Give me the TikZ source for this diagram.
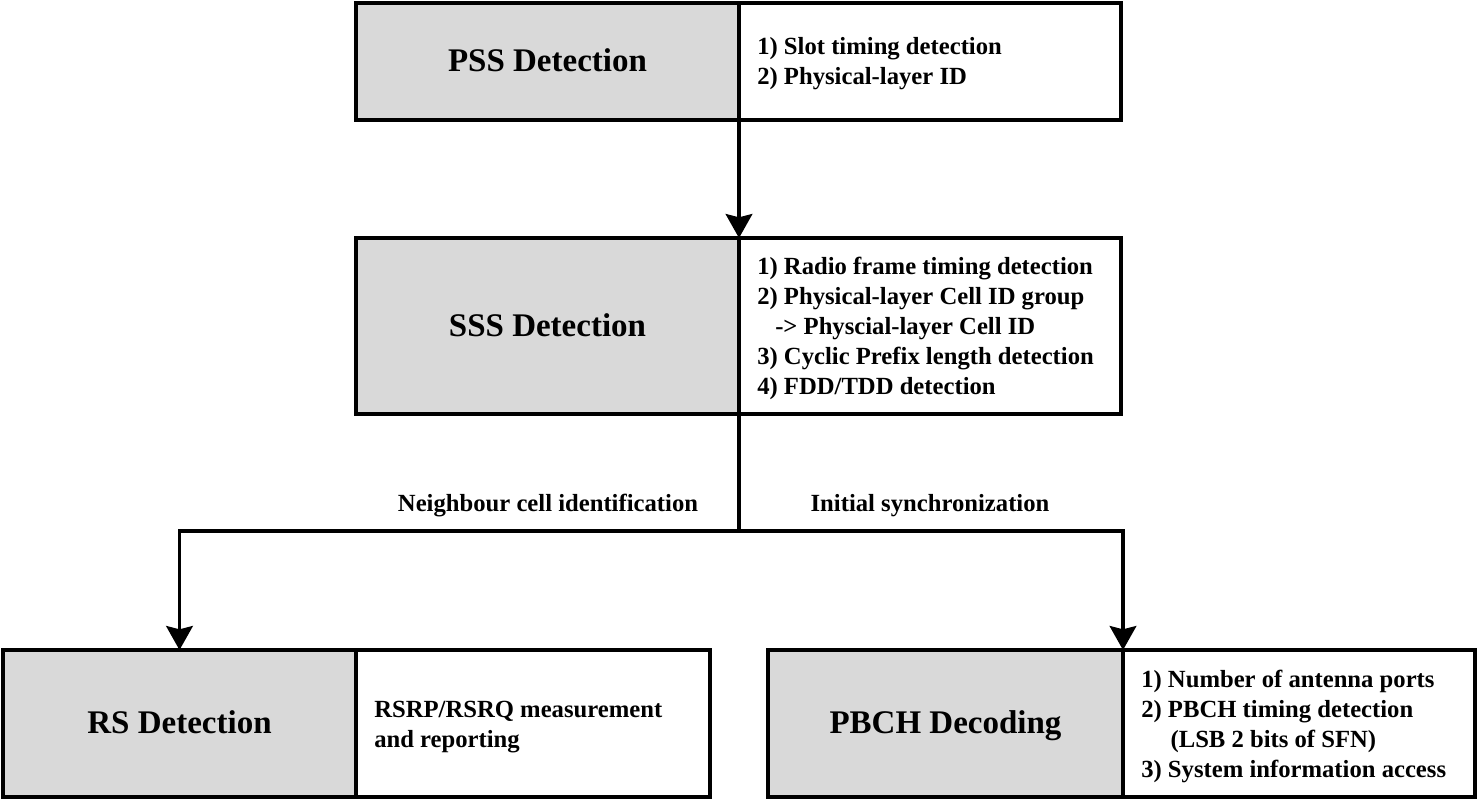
\documentclass[tikz,border=0pt]{standalone}
\usepackage{fontspec}
\setmainfont{Liberation Serif}
\usetikzlibrary{arrows.meta}
\begin{document}
\begin{tikzpicture}[x=0.75pt,y=-0.75pt,
  box/.style={draw=black,line width=2.4pt,inner sep=0pt,outer sep=0pt,anchor=north west},
  graybox/.style={box,fill=black!15},
  whitebox/.style={box,fill=white},
  title/.style={font=\bfseries\fontsize{24.75}{28}\selectfont,text height=16.5pt,text depth=0pt,inner sep=0pt},
  list/.style={font=\bfseries\fontsize{18.5}{22.5}\selectfont,align=left,anchor=north west,inner sep=0pt},
  lbl/.style={font=\bfseries\fontsize{18.5}{22.5}\selectfont,inner sep=0pt},
  arr/.style={line width=2.4pt,-{Stealth[length=18pt,width=20pt,inset=2.5pt]}},
  conn/.style={line width=2.4pt}]
\useasboundingbox (0,0) rectangle (1478,800);
% PSS
\node[graybox,minimum width=287.25pt,minimum height=87.75pt] (pssG) at (356,3) {};
\node[whitebox,minimum width=286.5pt,minimum height=87.75pt] (pssW) at (739,3) {};
\node[title] (pssT) at (547.5,60) {PSS Detection};
\node[list] (pssL) at (757,37) {1) Slot timing detection\\2) Physical-layer ID};
% SSS
\node[graybox,minimum width=287.25pt,minimum height=132pt] (sssG) at (356,238) {};
\node[whitebox,minimum width=286.5pt,minimum height=132pt] (sssW) at (739,238) {};
\node[title] (sssT) at (547.5,325) {SSS Detection};
\node[list] (sssL) at (757,257) {1) Radio frame timing detection\\2) Physical-layer Cell ID group\\\hspace*{13.5pt}-> Physcial-layer Cell ID\\3) Cyclic Prefix length detection\\4) FDD/TDD detection};
% RS
\node[graybox,minimum width=264.75pt,minimum height=110.25pt] (rsG) at (3,650) {};
\node[whitebox,minimum width=265.5pt,minimum height=110.25pt] (rsW) at (356,650) {};
\node[title] (rsT) at (179.5,722) {RS Detection};
\node[list] (rsL) at (374,701) {RSRP/RSRQ measurement\\and reporting};
% PBCH
\node[graybox,minimum width=266.25pt,minimum height=110.25pt] (pbG) at (768,650) {};
\node[whitebox,minimum width=264pt,minimum height=110.25pt] (pbW) at (1123,650) {};
\node[title] (pbT) at (945.5,722) {PBCH Decoding};
\node[list] (pbL) at (1141,670) {1) Number of antenna ports\\2) PBCH timing detection\\\hspace*{22pt}(LSB 2 bits of SFN)\\3) System information access};
% connectors
\coordinate (split) at (739,531);
\draw[arr] (pssG.south east) -- (sssG.north east);
\draw[conn] (sssG.south east) -- (split);
\draw[arr] (split) -| (rsG.north);
\draw[arr] (split) -| (pbG.north east);
\node[lbl] (nci) at (548,506) {Neighbour cell identification};
\node[lbl] (isy) at (930,506) {Initial synchronization};
\end{tikzpicture}
\end{document}
